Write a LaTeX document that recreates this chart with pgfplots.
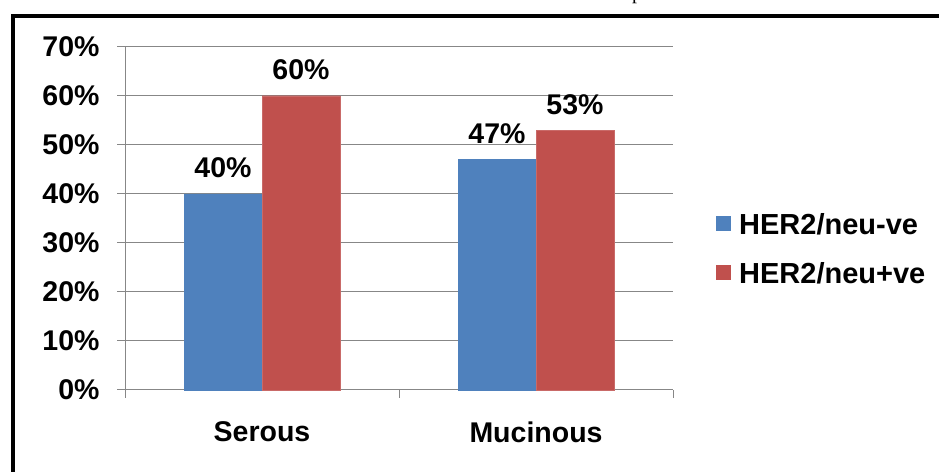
\documentclass[border=0pt]{standalone}
\usepackage{pgfplots}
\pgfplotsset{compat=1.18}
\usepackage{fontspec}
\setmainfont{Liberation Sans}
\newfontfamily\serifpart{Liberation Serif}

\definecolor{negblue}{HTML}{4F81BD}
\definecolor{posred}{HTML}{C0504D}
\definecolor{gridgray}{HTML}{878787}

\begin{document}
\begin{tikzpicture}[x=1pt,y=1pt]
\useasboundingbox (0,0) rectangle (939,471);

% tail of a line of text from the page above
\node[anchor=base, inner sep=0pt, font=\serifpart\fontsize{20}{24}\selectfont] at (637,471) {p};

% chart frame
\draw[line width=4pt, line cap=rect] (13,-10) -- (13,454.5) -- (960,454.5);

\begin{axis}[
  at={(125pt,81pt)}, anchor=south west,
  scale only axis,
  width=548pt, height=343.3pt,
  xmin=-0.5, xmax=1.5,
  ymin=0, ymax=70,
  ybar=0pt, bar width=78pt,
  axis x line=bottom, axis y line=left,
  axis line style={-, draw=gridgray, line width=1pt},
  tick align=outside,
  major tick length=8pt,
  tick style={draw=gridgray, line width=1pt},
  xtick={-0.5,0.5,1.5}, xticklabels={},
  extra x ticks={0,1},
  extra x tick labels={Serous,Mucinous},
  extra x tick style={major tick length=0pt,
    tick label style={yshift=-28pt}},
  ytick={0,10,...,70},
  yticklabels={0\%,10\%,20\%,30\%,40\%,50\%,60\%,70\%},
  ymajorgrids,
  major grid style={draw=gridgray, line width=1pt},
  tick label style={font=\bfseries\fontsize{28.5}{32}\selectfont},
  y tick label style={xshift=-14pt},
  nodes near coords={\pgfmathprintnumber[fixed,precision=0,assume math mode=true]{\pgfplotspointmeta}\%},
  every node near coord/.append style={font=\bfseries\fontsize{28.5}{32}\selectfont,
    anchor=base, yshift=16pt, inner sep=0pt},
  clip=false,
]
\addplot[fill=negblue, draw=negblue] coordinates {(0,40) (1,47)};
\addplot[fill=posred, draw=posred!85!white] coordinates {(0,60) (1,53)};
\end{axis}

% legend
\fill[negblue] (716,240.3) rectangle (731,255);
\fill[posred] (716,191) rectangle (731,206);
\node[anchor=west, inner sep=0pt, font=\bfseries\fontsize{29}{32}\selectfont] at (739,247) {HER2/neu-ve};
\node[anchor=west, inner sep=0pt, font=\bfseries\fontsize{29}{32}\selectfont] at (739,198) {HER2/neu+ve};
\end{tikzpicture}
\end{document}
